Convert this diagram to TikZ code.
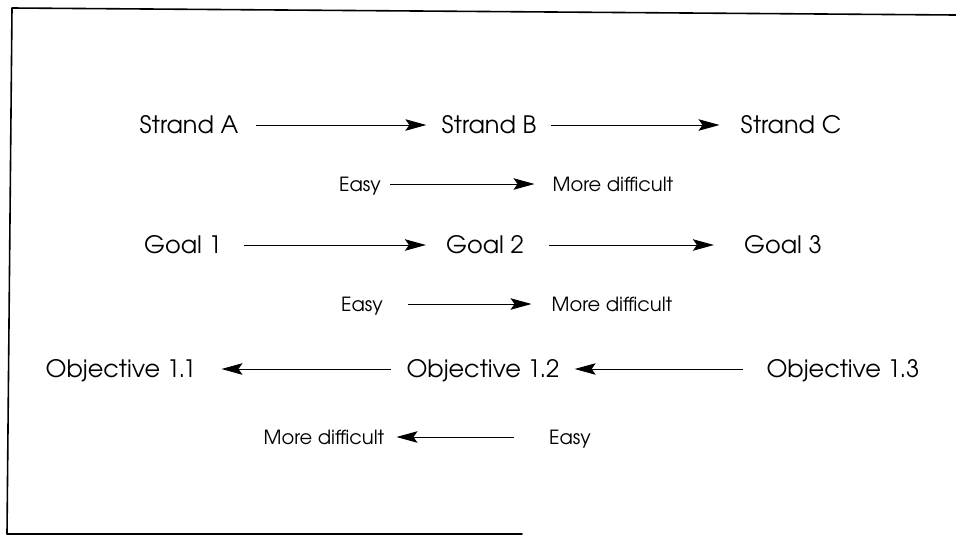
\documentclass[tikz,border=0pt]{standalone}
\usepackage{fontspec}
\setmainfont{texgyreadventor}[Extension=.otf,UprightFont=*-regular,BoldFont=*-bold]
\usetikzlibrary{arrows.meta}
\tikzset{
  big/.style={font=\fontsize{24}{24}\selectfont, inner sep=0pt, text height=17.8pt, text depth=0pt},
  small/.style={font=\fontsize{19.5}{19.5}\selectfont, inner sep=0pt, text height=14.4pt, text depth=0pt},
  conn/.style={line width=1pt, -{Stealth[length=21pt,width=11.5pt,inset=4pt]}},
  frame/.style={line width=1.6pt, line cap=round, line join=round}
}
\begin{document}
\begin{tikzpicture}[x=1pt,y=-1pt]
\useasboundingbox (0,0) rectangle (956,536);
\coordinate (fTR) at (956,15);
\coordinate (fTL) at (12,8);
\coordinate (fBL) at (7,534);
\coordinate (fBR) at (522,534);
\draw[frame] (fTR) -- (fTL) -- (fBL) -- (fBR);
% row 1
\node[big] (sA) at (189,125) {Strand A};
\node[big] (sB) at (489,125) {Strand B};
\node[big] (sC) at (791,125) {Strand C};
\draw[conn, shorten <=17pt, shorten >=15pt] (sA.east) -- (sB.west);
\draw[conn, shorten <=14pt, shorten >=21pt] (sB.east) -- (sC.west);
% row 2
\node[small] (e1) at (360,184) {Easy};
\node[small] (m1) at (613,184) {More difficult};
\draw[conn, shorten <=9pt, shorten >=18pt] (e1.east) -- (m1.west);
% row 3
\node[big] (g1) at (183,245) {Goal 1};
\node[big] (g2) at (485,245) {Goal 2};
\node[big] (g3) at (783,245) {Goal 3};
\draw[conn, shorten <=22pt, shorten >=20pt] (g1.east) -- (g2.west);
\draw[conn, shorten <=25pt, shorten >=30pt] (g2.east) -- (g3.west);
% row 4
\node[small] (e2) at (362,304) {Easy};
\node[small] (m2) at (612,304) {More difficult};
\draw[conn, shorten <=25pt, shorten >=20pt] (e2.east) -- (m2.west);
% row 5
\node[big] (o1) at (121,369) {Objective 1.1};
\node[big] (o2) at (483,369) {Objective 1.2};
\node[big] (o3) at (843,369) {Objective 1.3};
\draw[conn, shorten <=15pt, shorten >=25pt] (o2.west) -- (o1.east);
\draw[conn, shorten <=23pt, shorten >=15pt] (o3.west) -- (o2.east);
% row 6
\node[small] (m3) at (324,437) {More difficult};
\node[small] (e3) at (570,437) {Easy};
\draw[conn, shorten <=35pt, shorten >=12pt] (e3.west) -- (m3.east);
\end{tikzpicture}
\end{document}
